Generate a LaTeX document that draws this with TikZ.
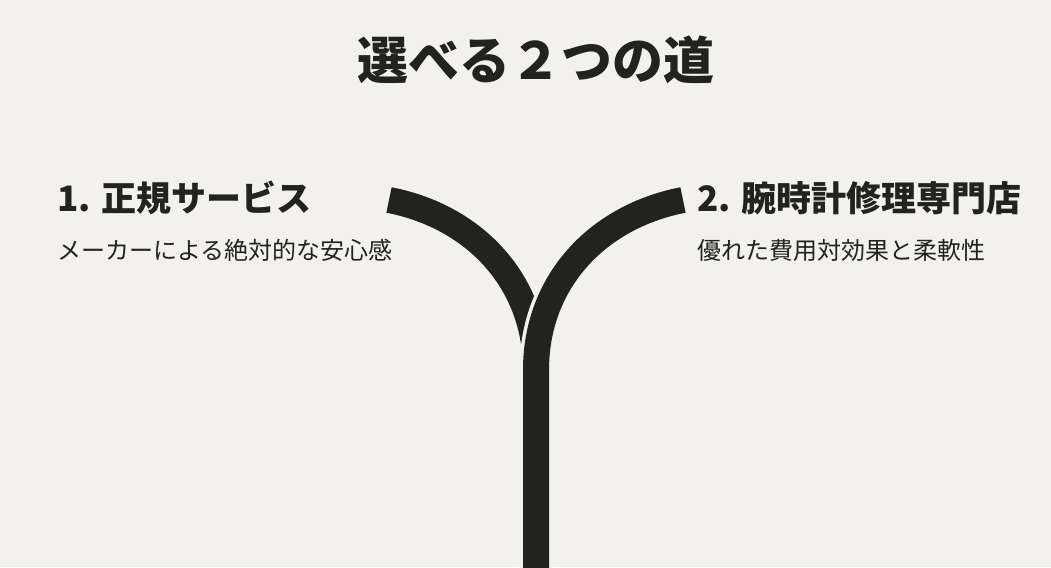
\documentclass[tikz,border=0pt]{standalone}
\usepackage{fontspec}
\setmainfont{Noto Sans CJK JP}
\usetikzlibrary{positioning}

\definecolor{paper}{RGB}{242,241,237}
\definecolor{ink}{RGB}{34,34,32}

\begin{document}
\begin{tikzpicture}[
    x = 1pt, y = 1pt,
    every node/.style = {inner sep = 0pt, text = ink},
    titletext/.style = {font = \fontsize{51}{56}\selectfont\bfseries},
    headtext/.style = {font = \fontsize{35}{40}\selectfont\bfseries, anchor = west},
    notetext/.style = {font = \fontsize{24}{28}\selectfont, anchor = west},
    road/.style = {line width = 26pt, draw = ink},
    roadgap/.style = {line width = 33pt, draw = paper}]

\fill[paper] (0,0) rectangle (1051,567);
\useasboundingbox (0,0) rectangle (1051,567);
\clip (0,0) rectangle (1051,567);

% the two roads
\coordinate (leftend) at (389,367);
\coordinate (rightend) at (683,367);
\coordinate (fork) at (536,197);
\coordinate (foot) at (536,-20);

\draw[road] (leftend) to [out=-11, in=90] (fork);
\draw[roadgap] (foot) -- (fork) to [out=90, in=191] (rightend);
\draw[road] (foot) -- (fork) to [out=90, in=191] (rightend);

% texts
\node[titletext] (title) at (536,507) {選べる２つの道};
\node[headtext] (official) at (57,369) {1. 正規サービス};
\node[notetext] (officialnote) at (57,317) {メーカーによる絶対的な安心感};
\node[headtext] (repairshop) at (697,369) {2. 腕時計修理専門店};
\node[notetext] (repairnote) at (697,317) {優れた費用対効果と柔軟性};
\end{tikzpicture}
\end{document}
